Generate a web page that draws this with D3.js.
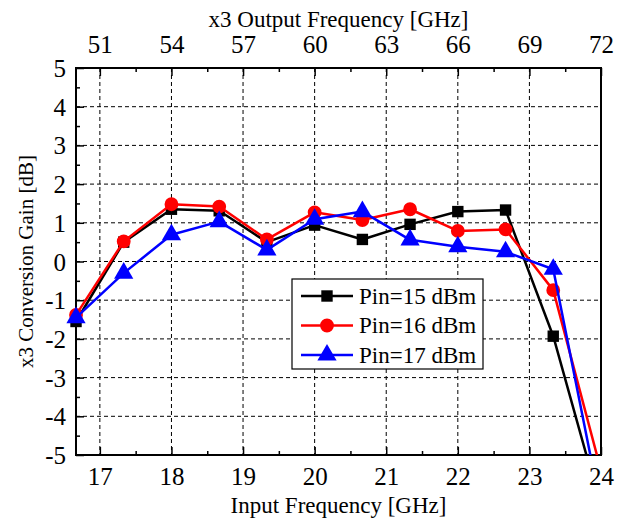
<!DOCTYPE html>
<html>
    <head>
        <meta charset="utf-8">
        <script src="https://d3js.org/d3.v7.js"></script>
        <style>
            body{ margin: 0; background: #fff; }
        </style>
    </head>
    <body>
        <div class="graph">
            <script>
                const w = 618
                const h = 522
                const mLeft = 76, mRight = 601, mTop = 68, mBottom = 455
                const serif = "'Liberation Serif', 'Times New Roman', serif"

                // input frequency [GHz] for every measured point
                const inputFreq = [16.667, 17.333, 18, 18.667, 19.333, 20, 20.667, 21.333, 22, 22.667, 23.333, 24]
                const seriesNames = ['Pin=15 dBm', 'Pin=16 dBm', 'Pin=17 dBm']
                const gain15 = [-1.55, 0.5, 1.35, 1.31, 0.5, 0.94, 0.57, 0.96, 1.29, 1.33, -1.93, -6.35]
                const gain16 = [-1.38, 0.52, 1.48, 1.42, 0.57, 1.27, 1.07, 1.35, 0.79, 0.83, -0.74, -5.4]
                const gain17 = [-1.45, -0.3, 0.69, 1.03, 0.3, 1.09, 1.29, 0.56, 0.38, 0.25, -0.2, -6.38]
                const colours = ['#000000', '#ff0000', '#0000ff']
                const symbols = [d3.symbolSquare, d3.symbolCircle, d3.symbolTriangle]
                const symbolSizes = [130, 150, 160]

                const inputTicks = [17, 18, 19, 20, 21, 22, 23, 24]
                const outputTicks = [51, 54, 57, 60, 63, 66, 69, 72]
                const gainTicks = [-5, -4, -3, -2, -1, 0, 1, 2, 3, 4, 5]

                const series = [gain15, gain16, gain17].map((vals, i) => ({
                    name: seriesNames[i], colour: colours[i], symbol: symbols[i], size: symbolSizes[i],
                    points: inputFreq.map((f, j) => ({f: f, g: vals[j]}))
                }))

                const x = d3.scaleLinear().domain([50 / 3, 24]).range([mLeft, mRight])
                const xTop = d3.scaleLinear().domain([50, 72]).range([mLeft, mRight])
                const y = d3.scaleLinear().domain([-5, 5]).range([mBottom, mTop])

                const svg = d3.select('.graph')
                        .append('svg')
                        .attr('width', w)
                        .attr('height', h)
                        .style('font-family', serif)

                // dashed grid
                svg.append('g')
                    .selectAll('line')
                    .data(inputTicks.filter(t => t < 24))
                    .enter()
                    .append('line')
                    .attr('x1', d => x(d)).attr('x2', d => x(d))
                    .attr('y1', mTop).attr('y2', mBottom)
                    .attr('stroke', '#000').attr('stroke-width', 1)
                    .attr('stroke-dasharray', '4,3')
                svg.append('g')
                    .selectAll('line')
                    .data(gainTicks.filter(t => t > -5 && t < 5))
                    .enter()
                    .append('line')
                    .attr('y1', d => y(d)).attr('y2', d => y(d))
                    .attr('x1', mLeft).attr('x2', mRight)
                    .attr('stroke', '#000').attr('stroke-width', 1)
                    .attr('stroke-dasharray', '4,3')

                // axes, ticks pointing inward
                const minorX = d3.range(17.5, 24, 1)
                const minorTop = d3.range(52.5, 72, 3)
                const minorY = d3.range(-4.5, 5, 1)
                const plain = d => String(d)

                const bottomAxis = svg.append('g')
                    .attr('transform', `translate(0,${mBottom})`)
                    .call(d3.axisBottom(x).tickValues(inputTicks).tickFormat(plain).tickSizeInner(-8).tickSizeOuter(0))
                const topAxis = svg.append('g')
                    .attr('transform', `translate(0,${mTop})`)
                    .call(d3.axisTop(xTop).tickValues(outputTicks).tickFormat(plain).tickSizeInner(-8).tickSizeOuter(0))
                const leftAxis = svg.append('g')
                    .attr('transform', `translate(${mLeft},0)`)
                    .call(d3.axisLeft(y).tickValues(gainTicks).tickFormat(plain).tickSizeInner(-8).tickSizeOuter(0))
                svg.append('g')
                    .attr('transform', `translate(0,${mBottom})`)
                    .call(d3.axisBottom(x).tickValues(minorX).tickSize(-4).tickFormat(''))
                svg.append('g')
                    .attr('transform', `translate(0,${mTop})`)
                    .call(d3.axisTop(xTop).tickValues(minorTop).tickSize(-4).tickFormat(''))
                svg.append('g')
                    .attr('transform', `translate(${mLeft},0)`)
                    .call(d3.axisLeft(y).tickValues(minorY).tickSize(-4).tickFormat(''))

                svg.selectAll('g').attr('font-family', null).attr('font-size', null)
                svg.selectAll('.domain').remove()
                svg.selectAll('.tick line').attr('stroke', '#000').attr('stroke-width', 1.5)
                svg.selectAll('.tick text')
                    .attr('font-family', serif)
                    .style('font-family', serif)
                    .style('font-size', '25px')
                    .attr('fill', '#000')
                bottomAxis.selectAll('.tick text').attr('y', 30).attr('dy', 0)
                topAxis.selectAll('.tick text').attr('y', -15).attr('dy', 0)
                leftAxis.selectAll('.tick text').attr('x', -10).attr('dy', '0.34em')

                // frame
                svg.append('rect')
                    .attr('x', mLeft).attr('y', mTop)
                    .attr('width', mRight - mLeft).attr('height', mBottom - mTop)
                    .attr('fill', 'none').attr('stroke', '#000').attr('stroke-width', 2)

                // series
                svg.append('clipPath').attr('id', 'plotClip')
                    .append('rect')
                    .attr('x', mLeft).attr('y', mTop)
                    .attr('width', mRight - mLeft).attr('height', mBottom - mTop)

                const line = d3.line().x(d => x(d.f)).y(d => y(d.g))

                series.forEach(s => {
                    svg.append('path')
                        .datum(s.points)
                        .attr('d', line)
                        .attr('clip-path', 'url(#plotClip)')
                        .attr('fill', 'none')
                        .attr('stroke', s.colour)
                        .attr('stroke-width', 2.5)
                        .attr('stroke-linejoin', 'round')
                    svg.append('g')
                        .selectAll('path')
                        .data(s.points.filter(p => p.g >= -5))
                        .enter()
                        .append('path')
                        .attr('transform', p => `translate(${x(p.f)},${y(p.g)})`)
                        .attr('d', d3.symbol().type(s.symbol).size(s.size))
                        .attr('fill', s.colour)
                })

                // legend
                const legend = svg.append('g').attr('transform', 'translate(292,279)')
                legend.append('rect')
                    .attr('width', 191).attr('height', 90)
                    .attr('fill', '#fff').attr('stroke', '#000').attr('stroke-width', 1.2)
                series.forEach((s, i) => {
                    const ly = 17 + i * 29.5
                    legend.append('line')
                        .attr('x1', 9).attr('x2', 61).attr('y1', ly).attr('y2', ly)
                        .attr('stroke', s.colour).attr('stroke-width', 2.5)
                    legend.append('path')
                        .attr('transform', `translate(35,${ly})`)
                        .attr('d', d3.symbol().type(s.symbol).size(s.size))
                        .attr('fill', s.colour)
                    legend.append('text')
                        .attr('x', 67).attr('y', ly)
                        .attr('dy', '0.34em')
                        .style('font-family', serif)
                        .style('font-size', '23px')
                        .text(s.name)
                })

                // axis titles
                svg.append('text')
                    .attr('x', (mLeft + mRight) / 2).attr('y', 27)
                    .attr('text-anchor', 'middle')
                    .style('font-family', serif)
                    .style('font-size', '23px')
                    .text('x3 Output Frequency [GHz]')
                svg.append('text')
                    .attr('x', (mLeft + mRight) / 2).attr('y', 513)
                    .attr('text-anchor', 'middle')
                    .style('font-family', serif)
                    .style('font-size', '23px')
                    .text('Input Frequency [GHz]')
                svg.append('text')
                    .attr('transform', `translate(33,${(mTop + mBottom) / 2}) rotate(-90)`)
                    .attr('text-anchor', 'middle')
                    .style('font-family', serif)
                    .style('font-size', '21px')
                    .text('x3 Conversion Gain [dB]')
            </script>
        </div>
    </body>
</html>
